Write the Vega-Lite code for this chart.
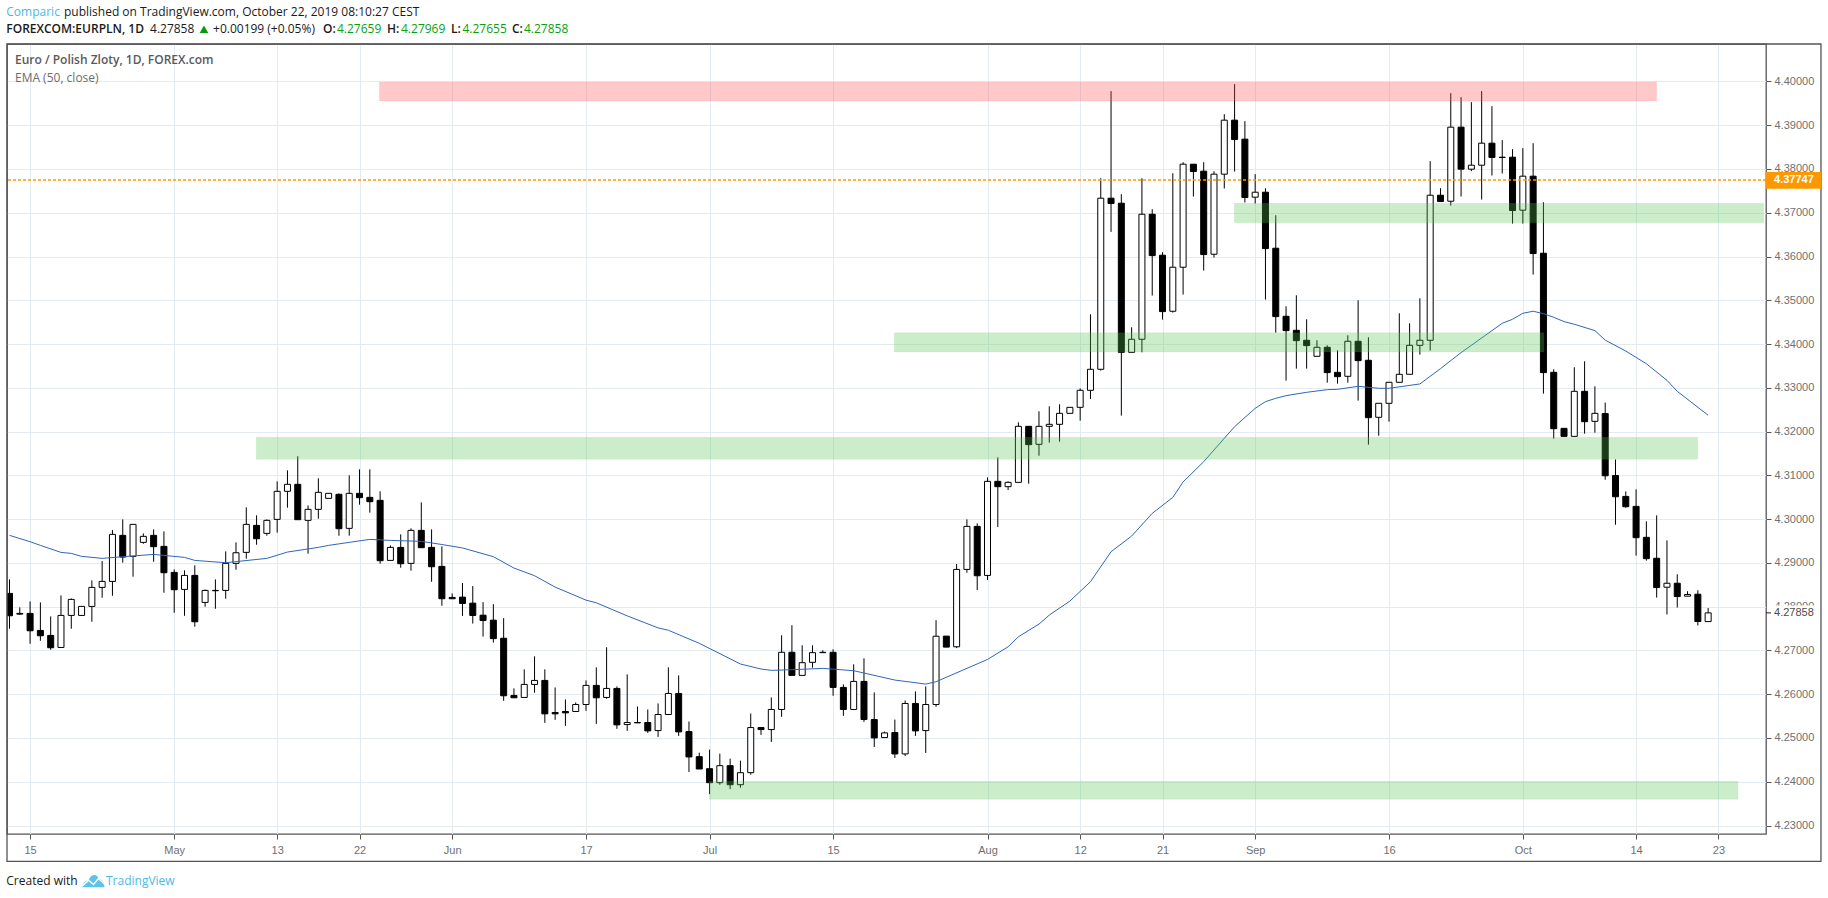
{"$schema":"https://vega.github.io/schema/vega-lite/v6.json","width":1759,"height":790,"autosize":"none","padding":{"left":7,"top":44,"right":62,"bottom":64},"background":"white",
"config":{"view":{"stroke":"#555555","strokeWidth":1.3},"font":"Liberation Sans"},
"resolve":{"scale":{"color":"independent","fill":"independent","stroke":"independent"}},
"datasets":{
"candles":[
{"i":0,"o":4.28303,"h":4.28623,"l":4.27495,"c":4.27792},{"i":1,"o":4.27846,"h":4.27983,"l":4.27815,"c":4.2783},{"i":2,"o":4.27846,"h":4.2812,"l":4.27152,"c":4.27449},{"i":3,"o":4.27457,"h":4.28097,"l":4.27221,"c":4.27335},{"i":4,"o":4.27343,"h":4.27777,"l":4.27015,"c":4.27061},{"i":5,"o":4.27068,"h":4.28257,"l":4.27068,"c":4.278},{"i":6,"o":4.278,"h":4.28188,"l":4.27495,"c":4.28166},{"i":7,"o":4.278,"h":4.28006,"l":4.278,"c":4.28006},{"i":8,"o":4.28006,"h":4.286,"l":4.27655,"c":4.2844},{"i":9,"o":4.2844,"h":4.29042,"l":4.28204,"c":4.28577},
{"i":10,"o":4.28577,"h":4.29751,"l":4.28249,"c":4.29652},{"i":11,"o":4.29629,"h":4.29994,"l":4.29004,"c":4.29133},{"i":12,"o":4.29149,"h":4.2988,"l":4.28684,"c":4.2988},{"i":13,"o":4.29469,"h":4.29674,"l":4.29438,"c":4.29606},{"i":14,"o":4.29629,"h":4.29766,"l":4.29027,"c":4.2937},{"i":15,"o":4.29377,"h":4.2972,"l":4.28318,"c":4.28775},{"i":16,"o":4.28783,"h":4.28851,"l":4.27861,"c":4.28387},{"i":17,"o":4.28394,"h":4.28829,"l":4.27792,"c":4.28714},{"i":18,"o":4.28714,"h":4.28943,"l":4.27541,"c":4.27655},{"i":19,"o":4.28097,"h":4.28394,"l":4.27998,"c":4.28371},
{"i":20,"o":4.28371,"h":4.28623,"l":4.27952,"c":4.28364},{"i":21,"o":4.28371,"h":4.29263,"l":4.28181,"c":4.28989},{"i":22,"o":4.28989,"h":4.29469,"l":4.28844,"c":4.29232},{"i":23,"o":4.2924,"h":4.30269,"l":4.29095,"c":4.2988},{"i":24,"o":4.29857,"h":4.30086,"l":4.29415,"c":4.29552},{"i":25,"o":4.29674,"h":4.29994,"l":4.29621,"c":4.29972},{"i":26,"o":4.29994,"h":4.30863,"l":4.2969,"c":4.30635},{"i":27,"o":4.30635,"h":4.31115,"l":4.30261,"c":4.30795},{"i":28,"o":4.30795,"h":4.31435,"l":4.29987,"c":4.29987},{"i":29,"o":4.29972,"h":4.30314,"l":4.2921,"c":4.30223},
{"i":30,"o":4.30223,"h":4.30932,"l":4.3001,"c":4.30612},{"i":31,"o":4.30474,"h":4.30589,"l":4.30474,"c":4.30589},{"i":32,"o":4.30566,"h":4.30589,"l":4.29621,"c":4.29781},{"i":33,"o":4.29789,"h":4.31,"l":4.29621,"c":4.30589},{"i":34,"o":4.30589,"h":4.31137,"l":4.3033,"c":4.3049},{"i":35,"o":4.30497,"h":4.31137,"l":4.30147,"c":4.30398},{"i":36,"o":4.30429,"h":4.30635,"l":4.28981,"c":4.2905},{"i":37,"o":4.29057,"h":4.294,"l":4.29057,"c":4.29354},{"i":38,"o":4.29354,"h":4.29652,"l":4.2889,"c":4.28981},{"i":39,"o":4.28989,"h":4.29789,"l":4.28821,"c":4.29743},
{"i":40,"o":4.29743,"h":4.30383,"l":4.29347,"c":4.29347},{"i":41,"o":4.29354,"h":4.29766,"l":4.28569,"c":4.28912},{"i":42,"o":4.2892,"h":4.29377,"l":4.28021,"c":4.28181},{"i":43,"o":4.28211,"h":4.28303,"l":4.28181,"c":4.28181},{"i":44,"o":4.28218,"h":4.28539,"l":4.2779,"c":4.28073},{"i":45,"o":4.2808,"h":4.2847,"l":4.27614,"c":4.27798},{"i":46,"o":4.27805,"h":4.28103,"l":4.27316,"c":4.27683},{"i":47,"o":4.27691,"h":4.28057,"l":4.27179,"c":4.2727},{"i":48,"o":4.27278,"h":4.27736,"l":4.25849,"c":4.25964},{"i":49,"o":4.25972,"h":4.26132,"l":4.25918,"c":4.25918},
{"i":50,"o":4.25926,"h":4.26567,"l":4.25926,"c":4.26224},{"i":51,"o":4.26224,"h":4.26865,"l":4.26033,"c":4.26315},{"i":52,"o":4.26315,"h":4.26567,"l":4.25345,"c":4.25551},{"i":53,"o":4.25582,"h":4.26155,"l":4.25414,"c":4.25551},{"i":54,"o":4.25605,"h":4.2588,"l":4.25276,"c":4.25574},{"i":55,"o":4.25605,"h":4.25811,"l":4.25605,"c":4.25765},{"i":56,"o":4.25765,"h":4.26315,"l":4.2562,"c":4.26201},{"i":57,"o":4.26201,"h":4.26613,"l":4.25322,"c":4.25918},{"i":58,"o":4.25926,"h":4.27072,"l":4.25895,"c":4.26132},{"i":59,"o":4.26132,"h":4.26178,"l":4.25208,"c":4.25299},
{"i":60,"o":4.25307,"h":4.26453,"l":4.25162,"c":4.25353},{"i":61,"o":4.25353,"h":4.25719,"l":4.25345,"c":4.25345},{"i":62,"o":4.25353,"h":4.25651,"l":4.25116,"c":4.25162},{"i":63,"o":4.25169,"h":4.25788,"l":4.25024,"c":4.25536},{"i":64,"o":4.25536,"h":4.26613,"l":4.25536,"c":4.26017},{"i":65,"o":4.26017,"h":4.2643,"l":4.25047,"c":4.25139},{"i":66,"o":4.25146,"h":4.25376,"l":4.24222,"c":4.24566},{"i":67,"o":4.24573,"h":4.24665,"l":4.24291,"c":4.24291},{"i":68,"o":4.24298,"h":4.24734,"l":4.23718,"c":4.23978},{"i":69,"o":4.23978,"h":4.24642,"l":4.23932,"c":4.24367},
{"i":70,"o":4.24367,"h":4.24528,"l":4.23832,"c":4.23932},{"i":71,"o":4.23932,"h":4.24482,"l":4.23863,"c":4.24207},{"i":72,"o":4.24207,"h":4.25559,"l":4.24161,"c":4.25238},{"i":73,"o":4.25238,"h":4.25238,"l":4.2507,"c":4.25192},{"i":74,"o":4.25192,"h":4.25926,"l":4.2491,"c":4.25651},{"i":75,"o":4.25651,"h":4.27347,"l":4.25483,"c":4.26957},{"i":76,"o":4.26957,"h":4.27576,"l":4.2643,"c":4.2643},{"i":77,"o":4.2643,"h":4.27118,"l":4.2643,"c":4.2672},{"i":78,"o":4.26728,"h":4.27118,"l":4.26606,"c":4.26949},{"i":79,"o":4.26949,"h":4.27003,"l":4.26949,"c":4.26957},
{"i":80,"o":4.26957,"h":4.27026,"l":4.25964,"c":4.26155},{"i":81,"o":4.26155,"h":4.26224,"l":4.25506,"c":4.25651},{"i":82,"o":4.25651,"h":4.26682,"l":4.25651,"c":4.26292},{"i":83,"o":4.26292,"h":4.2682,"l":4.25368,"c":4.25421},{"i":84,"o":4.25421,"h":4.2604,"l":4.24795,"c":4.25001},{"i":85,"o":4.25009,"h":4.25146,"l":4.25009,"c":4.25116},{"i":86,"o":4.25124,"h":4.25421,"l":4.24543,"c":4.24635},{"i":87,"o":4.24635,"h":4.25857,"l":4.24589,"c":4.25788},{"i":88,"o":4.25788,"h":4.26063,"l":4.25047,"c":4.25162},{"i":89,"o":4.25169,"h":4.26178,"l":4.24657,"c":4.25765},
{"i":90,"o":4.25765,"h":4.27691,"l":4.25712,"c":4.27324},{"i":91,"o":4.27327,"h":4.27327,"l":4.27076,"c":4.27076},{"i":92,"o":4.27083,"h":4.28973,"l":4.27053,"c":4.28851},{"i":93,"o":4.28851,"h":4.29994,"l":4.28775,"c":4.29834},{"i":94,"o":4.29834,"h":4.29903,"l":4.28379,"c":4.28706},{"i":95,"o":4.28714,"h":4.30954,"l":4.28607,"c":4.30863},{"i":96,"o":4.30863,"h":4.31411,"l":4.29819,"c":4.30741},{"i":97,"o":4.30741,"h":4.30863,"l":4.30665,"c":4.3084},{"i":98,"o":4.3084,"h":4.32211,"l":4.3084,"c":4.3212},{"i":99,"o":4.3212,"h":4.3212,"l":4.30809,"c":4.31701},
{"i":100,"o":4.31709,"h":4.32463,"l":4.31449,"c":4.3212},{"i":101,"o":4.3212,"h":4.32577,"l":4.31747,"c":4.32166},{"i":102,"o":4.32166,"h":4.32623,"l":4.31769,"c":4.32417},{"i":103,"o":4.32417,"h":4.32554,"l":4.32417,"c":4.32554},{"i":104,"o":4.32554,"h":4.32988,"l":4.32249,"c":4.32943},{"i":105,"o":4.32943,"h":4.3468,"l":4.32745,"c":4.33423},{"i":106,"o":4.33423,"h":4.37789,"l":4.33392,"c":4.37332},{"i":107,"o":4.37332,"h":4.39778,"l":4.36562,"c":4.3721},{"i":108,"o":4.37218,"h":4.37423,"l":4.32364,"c":4.33811},{"i":109,"o":4.33811,"h":4.34383,"l":4.33811,"c":4.34109},
{"i":110,"o":4.34109,"h":4.37789,"l":4.33811,"c":4.36966},{"i":111,"o":4.36966,"h":4.3708,"l":4.35107,"c":4.36021},{"i":112,"o":4.36029,"h":4.36097,"l":4.34558,"c":4.34741},{"i":113,"o":4.34749,"h":4.37903,"l":4.34718,"c":4.35755},{"i":114,"o":4.35755,"h":4.38155,"l":4.3513,"c":4.38109},{"i":115,"o":4.38109,"h":4.38109,"l":4.3737,"c":4.37941},{"i":116,"o":4.37949,"h":4.38155,"l":4.35678,"c":4.36044},{"i":117,"o":4.36052,"h":4.37949,"l":4.35976,"c":4.37881},{"i":118,"o":4.37881,"h":4.39252,"l":4.37553,"c":4.39115},{"i":119,"o":4.39115,"h":4.39938,"l":4.37941,"c":4.38673},
{"i":120,"o":4.38681,"h":4.39092,"l":4.37233,"c":4.37347},{"i":121,"o":4.37355,"h":4.37881,"l":4.3721,"c":4.37469},{"i":122,"o":4.37469,"h":4.3756,"l":4.35015,"c":4.36181},{"i":123,"o":4.36189,"h":4.36943,"l":4.34261,"c":4.34627},{"i":124,"o":4.34634,"h":4.34863,"l":4.33164,"c":4.34307},{"i":125,"o":4.34314,"h":4.35114,"l":4.33438,"c":4.34078},{"i":126,"o":4.34086,"h":4.34566,"l":4.33438,"c":4.33964},{"i":127,"o":4.3372,"h":4.34086,"l":4.3372,"c":4.33926},{"i":128,"o":4.33926,"h":4.33971,"l":4.33118,"c":4.33347},{"i":129,"o":4.33354,"h":4.33857,"l":4.33095,"c":4.33255},
{"i":130,"o":4.33263,"h":4.342,"l":4.33118,"c":4.34063},{"i":131,"o":4.34063,"h":4.35,"l":4.32707,"c":4.33621},{"i":132,"o":4.33629,"h":4.34154,"l":4.31701,"c":4.32318},{"i":133,"o":4.32326,"h":4.32646,"l":4.31906,"c":4.32646},{"i":134,"o":4.32646,"h":4.33126,"l":4.32226,"c":4.33126},{"i":135,"o":4.33126,"h":4.34703,"l":4.33126,"c":4.33309},{"i":136,"o":4.33309,"h":4.34474,"l":4.33309,"c":4.33971},{"i":137,"o":4.33971,"h":4.35046,"l":4.33758,"c":4.34086},{"i":138,"o":4.34086,"h":4.38178,"l":4.3385,"c":4.374},{"i":139,"o":4.374,"h":4.3756,"l":4.37256,"c":4.37256},
{"i":140,"o":4.37263,"h":4.39732,"l":4.37164,"c":4.38955},{"i":141,"o":4.38955,"h":4.39641,"l":4.3737,"c":4.37995},{"i":142,"o":4.37995,"h":4.39526,"l":4.37949,"c":4.38086},{"i":143,"o":4.38086,"h":4.39778,"l":4.37301,"c":4.38589},{"i":144,"o":4.38589,"h":4.39435,"l":4.3785,"c":4.38262},{"i":145,"o":4.38269,"h":4.38658,"l":4.37896,"c":4.38262},{"i":146,"o":4.38269,"h":4.38452,"l":4.36753,"c":4.3705},{"i":147,"o":4.37058,"h":4.38475,"l":4.36753,"c":4.37835},{"i":148,"o":4.37835,"h":4.38589,"l":4.35587,"c":4.36067},{"i":149,"o":4.36075,"h":4.3724,"l":4.32867,"c":4.33347},
{"i":150,"o":4.33354,"h":4.33423,"l":4.31838,"c":4.32066},{"i":151,"o":4.32074,"h":4.32074,"l":4.31891,"c":4.31891},{"i":152,"o":4.31891,"h":4.33469,"l":4.31891,"c":4.3292},{"i":153,"o":4.3292,"h":4.33606,"l":4.31952,"c":4.32226},{"i":154,"o":4.32234,"h":4.33034,"l":4.31975,"c":4.32417},{"i":155,"o":4.32411,"h":4.32662,"l":4.30899,"c":4.3099},{"i":156,"o":4.30997,"h":4.31362,"l":4.29873,"c":4.30511},{"i":157,"o":4.30519,"h":4.30633,"l":4.3026,"c":4.30283},{"i":158,"o":4.30291,"h":4.30678,"l":4.29166,"c":4.29576},{"i":159,"o":4.29584,"h":4.29949,"l":4.29052,"c":4.29097},
{"i":160,"o":4.29105,"h":4.30085,"l":4.28208,"c":4.28436},{"i":161,"o":4.28444,"h":4.29515,"l":4.27821,"c":4.28535},{"i":162,"o":4.28535,"h":4.2874,"l":4.2798,"c":4.28231},{"i":163,"o":4.28239,"h":4.28353,"l":4.28239,"c":4.28277},{"i":164,"o":4.28284,"h":4.28375,"l":4.2757,"c":4.27661},{"i":165,"o":4.27659,"h":4.27969,"l":4.27655,"c":4.27858}
],
"ema":[
{"i":0,"v":4.29629},{"i":2,"v":4.29484},{"i":3,"v":4.294},{"i":5,"v":4.2924},{"i":6,"v":4.29217},{"i":7,"v":4.29149},{"i":9,"v":4.29103},{"i":11,"v":4.29141},{"i":14,"v":4.29194},{"i":17,"v":4.29126},{"i":18,"v":4.29057},{"i":21,"v":4.29004},{"i":25,"v":4.29103},{"i":27,"v":4.29248},{"i":30,"v":4.29354},{"i":31,"v":4.294},{"i":33,"v":4.29469},{"i":35,"v":4.29537},{"i":37,"v":4.29514},{"i":40,"v":4.29492},{"i":42,"v":4.2942},{"i":44,"v":4.29341},{"i":47,"v":4.29142},{"i":49,"v":4.28882},{"i":51,"v":4.28707},{"i":53,"v":4.28447},{"i":56,"v":4.28149},{"i":57,"v":4.28088},{"i":60,"v":4.2779},{"i":63,"v":4.27515},{"i":64,"v":4.27461},{"i":67,"v":4.27163},{"i":71,"v":4.2669},{"i":73,"v":4.26575},{"i":74,"v":4.26545},{"i":76,"v":4.2656},{"i":79,"v":4.2659},{"i":82,"v":4.26537},{"i":86,"v":4.26323},{"i":89,"v":4.26231},{"i":90,"v":4.26285},{"i":95,"v":4.26794},{"i":97,"v":4.27083},{"i":98,"v":4.27312},{"i":100,"v":4.27601},{"i":101,"v":4.27807},{"i":103,"v":4.28127},{"i":105,"v":4.28569},{"i":107,"v":4.29255},{"i":109,"v":4.29613},{"i":111,"v":4.30131},{"i":113,"v":4.30497},{"i":114,"v":4.3085},{"i":116,"v":4.31312},{"i":118,"v":4.31846},{"i":119,"v":4.32112},{"i":121,"v":4.32531},{"i":122,"v":4.32684},{"i":123,"v":4.3276},{"i":124,"v":4.32821},{"i":126,"v":4.32897},{"i":128,"v":4.32958},{"i":129,"v":4.32966},{"i":131,"v":4.33034},{"i":133,"v":4.32989},{"i":134,"v":4.32989},{"i":137,"v":4.33088},{"i":139,"v":4.33438},{"i":141,"v":4.33804},{"i":142,"v":4.33971},{"i":145,"v":4.34474},{"i":146,"v":4.34566},{"i":147,"v":4.34703},{"i":148,"v":4.34749},{"i":149,"v":4.34695},{"i":150,"v":4.34611},{"i":151,"v":4.34513},{"i":152,"v":4.34452},{"i":154,"v":4.34307},{"i":155,"v":4.3409},{"i":157,"v":4.3384},{"i":159,"v":4.3355},{"i":161,"v":4.33171},{"i":162,"v":4.3292},{"i":165,"v":4.32373}
],
"zones":[
{"from":35.93,"to":160,"top":4.39986,"bottom":4.39552,"kind":"resistance"},
{"from":118.97,"to":170.4,"top":4.37215,"bottom":4.36772,"kind":"support"},
{"from":85.95,"to":149.05,"top":4.34259,"bottom":4.33818,"kind":"support"},
{"from":23.97,"to":163.98,"top":4.31869,"bottom":4.31366,"kind":"support"},
{"from":67.97,"to":167.9,"top":4.2401,"bottom":4.23599,"kind":"support"}
],
"plain":[
{"t":"published on TradingView.com, October 22, 2019 08:10:27 CEST","x":5.29,"y":4.41579,"k":"ink"},
{"t":"4.27858","x":13.65,"y":4.41191,"k":"ink"},
{"t":"+0.00199 (+0.05%)","x":19.77,"y":4.41191,"k":"ink"},
{"t":"4.27659","x":31.81,"y":4.41191,"k":"up"},
{"t":"4.27969","x":38.03,"y":4.41191,"k":"up"},
{"t":"4.27655","x":44.0,"y":4.41191,"k":"up"},
{"t":"4.27858","x":49.97,"y":4.41191,"k":"up"},
{"t":"Comparic","x":-0.31,"y":4.41579,"k":"brand"},
{"t":"EMA (50, close)","x":0.53,"y":4.40085,"k":"study"},
{"t":"Created with","x":-0.31,"y":4.21739,"k":"ink"},
{"t":"TradingView","x":9.37,"y":4.21739,"k":"brand"}
],
"bold":[
{"t":"FOREXCOM:EURPLN, 1D","x":-0.31,"y":4.41191,"k":"ink"},
{"t":"O:","x":30.45,"y":4.41191,"k":"ink"},
{"t":"H:","x":36.67,"y":4.41191,"k":"ink"},
{"t":"L:","x":42.88,"y":4.41191,"k":"ink"},
{"t":"C:","x":48.81,"y":4.41191,"k":"ink"},
{"t":"Euro / Polish Zloty, 1D, FOREX.com","x":0.53,"y":4.40482,"k":"study"}
],
"tags":[
{"x":170.62,"x2":175.96,"y":4.37931,"y2":4.37549,"k":"last"},
{"x":170.72,"x2":175.86,"y":4.28025,"y2":4.27645,"k":"close"}
]
},
"layer":[
{"data":{"name":"candles"},"mark":{"type":"rule","color":"#000000","strokeWidth":1,"clip":true},
"encoding":{"x":{"field":"i","type":"quantitative","title":null,"scale":{"domain":[-0.243,170.62],"nice":false,"zero":false,"padding":0},
"axis":{"values":[2,16,26,34,43,56,68,80,95,104,112,121,134,147,158,166],"labelExpr":"{'2':'15','16':'May','26':'13','34':'22','43':'Jun','56':'17','68':'Jul','80':'15','95':'Aug','104':'12','112':'21','121':'Sep','134':'16','147':'Oct','158':'14','166':'23'}[datum.value]","grid":true,"gridColor":"#E3EBF1","gridWidth":1,"domain":false,"tickColor":"#555555","tickSize":5,"labelColor":"#6F6F6F","labelFont":"Liberation Sans","labelFontSize":11,"labelPadding":5,"labelOverlap":false,"labelFlush":false}},
"y":{"field":"l","type":"quantitative","title":null,"scale":{"domain":[4.22806,4.40855],"nice":false,"zero":false,"padding":0},
"axis":{"orient":"right","values":[4.23,4.24,4.25,4.26,4.27,4.28,4.29,4.3,4.31,4.32,4.33,4.34,4.35,4.36,4.37,4.38,4.39,4.4],"format":".5f","grid":true,"gridColor":"#E3EBF1","gridWidth":1,"domain":false,"tickColor":"#555555","tickSize":5,"labelColor":"#6F6F6F","labelFont":"Liberation Sans","labelFontSize":11,"labelPadding":3,"labelOverlap":false,"labelFlush":false}},
"y2":{"field":"h"}}},
{"data":{"name":"candles"},"mark":{"type":"bar","size":6,"stroke":"#000000","strokeWidth":1,"clip":true},
"encoding":{"x":{"field":"i","type":"quantitative"},"y":{"field":"o","type":"quantitative"},"y2":{"field":"c"},
"fill":{"condition":{"test":"datum.c > datum.o","value":"#FFFFFF"},"value":"#000000"}}},
{"data":{"name":"ema"},"mark":{"type":"line","color":"#2F66B8","strokeWidth":1,"interpolate":"linear"},
"encoding":{"x":{"field":"i","type":"quantitative"},"y":{"field":"v","type":"quantitative"}}},
{"data":{"name":"zones"},"mark":{"type":"rect","fillOpacity":0.3,"strokeOpacity":0.08,"strokeWidth":1},
"encoding":{"x":{"field":"from","type":"quantitative"},"x2":{"field":"to"},"y":{"field":"top","type":"quantitative"},"y2":{"field":"bottom"},
"fill":{"field":"kind","type":"nominal","legend":null,"scale":{"domain":["resistance","support"],"range":["#FF4B4B","#55C34E"]}},
"stroke":{"field":"kind","type":"nominal","legend":null,"scale":{"domain":["resistance","support"],"range":["#FF4B4B","#55C34E"]}}}},
{"data":{"values":[{"y":4.37747}]},"mark":{"type":"rule","color":"#FF9800","strokeWidth":1.5,"strokeDash":[3,2]},
"encoding":{"y":{"field":"y","type":"quantitative"}}},
{"data":{"values":[{"x":-0.243,"x2":175.96,"y":4.40855,"y2":4.22182}]},"mark":{"type":"rect","fillOpacity":0,"stroke":"#555555","strokeWidth":1.3},
"encoding":{"x":{"field":"x","type":"quantitative"},"x2":{"field":"x2"},"y":{"field":"y","type":"quantitative"},"y2":{"field":"y2"}}},
{"data":{"name":"tags"},"mark":{"type":"rect"},
"encoding":{"x":{"field":"x","type":"quantitative"},"x2":{"field":"x2"},"y":{"field":"y","type":"quantitative"},"y2":{"field":"y2"},
"fill":{"field":"k","type":"nominal","legend":null,"scale":{"domain":["last","close"],"range":["#FF9800","#FFFFFF"]}}}},
{"data":{"values":[{"x":170.62,"x2":171.1,"y":4.27858}]},"mark":{"type":"rule","color":"#222222","strokeWidth":1},
"encoding":{"x":{"field":"x","type":"quantitative"},"x2":{"field":"x2"},"y":{"field":"y","type":"quantitative"}}},
{"data":{"values":[{"t":"4.37747","x":171.4,"y":4.37747}]},"mark":{"type":"text","align":"left","baseline":"middle","font":"Liberation Sans","fontSize":11,"fontWeight":"bold","color":"#FFFFFF"},
"encoding":{"x":{"field":"x","type":"quantitative"},"y":{"field":"y","type":"quantitative"},"text":{"field":"t"}}},
{"data":{"values":[{"t":"4.27858","x":171.4,"y":4.27858}]},"mark":{"type":"text","align":"left","baseline":"middle","font":"Liberation Sans","fontSize":11,"color":"#4A4A4A"},
"encoding":{"x":{"field":"x","type":"quantitative"},"y":{"field":"y","type":"quantitative"},"text":{"field":"t"}}},
{"data":{"name":"plain"},"mark":{"type":"text","align":"left","baseline":"middle","font":"Open Sans","fontSize":12},
"encoding":{"x":{"field":"x","type":"quantitative"},"y":{"field":"y","type":"quantitative"},"text":{"field":"t"},
"color":{"field":"k","type":"nominal","legend":null,"scale":{"domain":["ink","up","brand","study"],"range":["#1A1A1A","#0AA012","#4DB8E8","#6E6E6E"]}}}},
{"data":{"name":"bold"},"mark":{"type":"text","align":"left","baseline":"middle","font":"Open Sans","fontSize":12,"fontWeight":600},
"encoding":{"x":{"field":"x","type":"quantitative"},"y":{"field":"y","type":"quantitative"},"text":{"field":"t"},
"color":{"field":"k","type":"nominal","legend":null,"scale":{"domain":["ink","study"],"range":["#1A1A1A","#5A5A5A"]}}}},
{"data":{"values":[{"x":18.89,"y":4.41191}]},"mark":{"type":"point","shape":"triangle-up","filled":true,"color":"#0A9A12","opacity":1,"size":75},
"encoding":{"x":{"field":"x","type":"quantitative"},"y":{"field":"y","type":"quantitative"}}},
{"data":{"values":[{"x":8.16,"y":4.21739}]},"mark":{"type":"point","filled":true,"color":"#5BC4EA","opacity":1,"size":480,"shape":"M-1,0.6 C-1,0.1 -0.7,0 -0.45,-0.05 C-0.25,-0.6 0.3,-0.7 0.5,-0.15 C0.8,-0.15 1,0.2 1,0.6 Z"},
"encoding":{"x":{"field":"x","type":"quantitative"},"y":{"field":"y","type":"quantitative"}}},
{"data":{"values":[{"x":8.16,"y":4.21739}]},"mark":{"type":"point","filled":false,"color":"#FFFFFF","opacity":1,"strokeWidth":1.5,"size":480,"shape":"M-1,0.45 L-0.45,-0.05 L0,0.35 L0.45,-0.2 L1,0.3"},
"encoding":{"x":{"field":"x","type":"quantitative"},"y":{"field":"y","type":"quantitative"}}}
]}
